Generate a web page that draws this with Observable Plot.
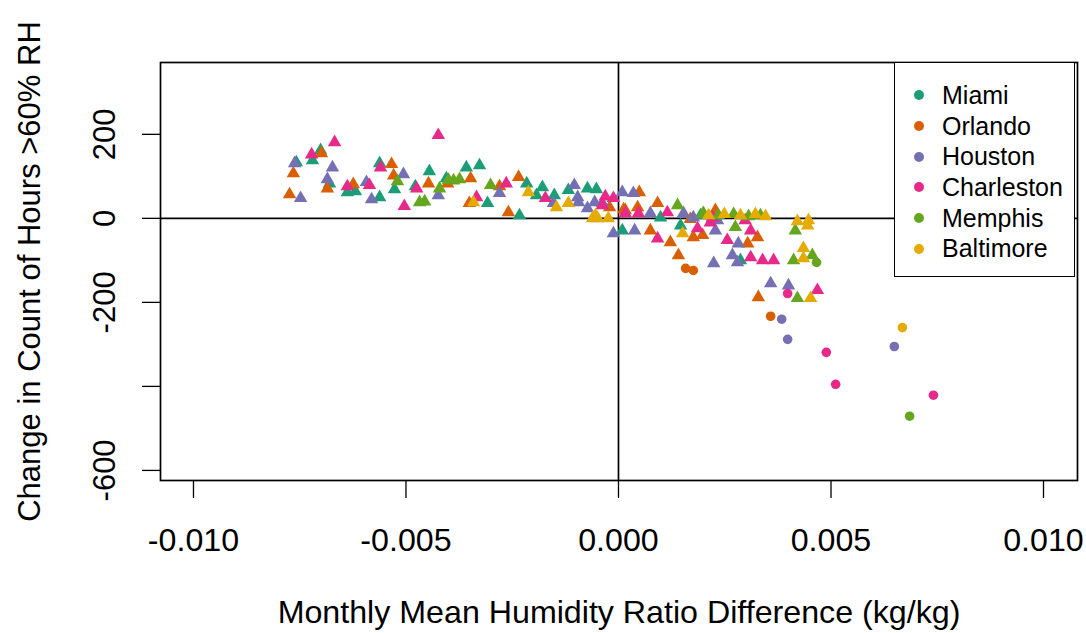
<!DOCTYPE html>
<html>
<head>
<meta charset="utf-8">
<script src="https://cdn.jsdelivr.net/npm/d3@7"></script>
<script src="https://cdn.jsdelivr.net/npm/@observablehq/plot@0.6"></script>
<style>
  html, body { margin: 0; padding: 0; background: #fff; }
  #wrap { position: relative; width: 1086px; height: 633px; font-family: "Liberation Sans", Arial, sans-serif; }
  #legend { position: absolute; left: 894px; top: 62px; width: 181px; height: 215px; border: 1.5px solid #000; background: #fff; box-sizing: border-box; padding-top: 17px; }
  .item { display: flex; align-items: center; height: 30.7px; font-size: 25px; color: #000; }
  .sw { width: 10px; height: 10px; border-radius: 50%; margin-left: 19px; margin-right: 18px; }
</style>
</head>
<body>
<div id="wrap"></div>
<script>
const cities = ["Miami", "Orlando", "Houston", "Charleston", "Memphis", "Baltimore"];
const colors = ["#1B9E77", "#D95F02", "#7570B3", "#E7298A", "#66A61E", "#E6AB02"];

const xTicks = [-0.010, -0.005, 0.000, 0.005, 0.010];
const yTicks = [200, 0, -200, -400, -600];
const yTickLabels = ["200", "0", "-200", "", "-600"];
const xTitle = "Monthly Mean Humidity Ratio Difference (kg/kg)";
const yTitle = "Change in Count of Hours >60% RH";

// triangles: monthly points; circles: outlying points
const miamiTri = [[-0.00758,133],[-0.00720,138],[-0.00701,162],[-0.00680,83],[-0.00638,62],[-0.00619,64],[-0.00562,50],[-0.00562,131],[-0.00527,69],[-0.00478,76],[-0.00445,112],[-0.00405,95],[-0.00358,121],[-0.00327,126],[-0.00308,36],[-0.00233,7],[-0.00216,83],[-0.00193,55],[-0.00179,74],[-0.00151,55],[-0.00118,67],[-0.00073,71],[-0.00052,69],[0.00009,-29],[0.00146,-17],[0.00287,-100],[0.00099,2],[0.00193,7]];
const miamiDot = [];
const orlandoTri = [[-0.00774,57],[-0.00765,107],[-0.00699,155],[-0.00685,71],[-0.00624,81],[-0.00534,129],[-0.00529,102],[-0.00447,83],[-0.00402,83],[-0.00351,36],[-0.00348,95],[-0.00280,76],[-0.00259,14],[-0.00235,98],[-0.00021,26],[0.00012,21],[0.00016,19],[0.00045,26],[0.00049,62],[0.00092,36],[0.00075,-29],[0.00122,-57],[0.00141,-88],[0.00176,-45],[0.00198,-40],[0.00304,-60],[0.00327,-45],[0.00329,-188],[0.00169,-2],[0.00228,19]];
const orlandoDot = [[0.00158,-119],[0.00176,-124],[0.00358,-233]];
const houstonTri = [[-0.00762,131],[-0.00748,48],[-0.00673,121],[-0.00685,93],[-0.00593,86],[-0.00581,45],[-0.00506,105],[-0.00424,55],[-0.00280,60],[-0.00153,36],[-0.00104,79],[-0.00096,50],[-0.00094,38],[-0.00073,24],[-0.00056,38],[-0.00038,36],[-0.00012,-36],[0.00009,62],[0.00035,60],[0.00038,-29],[0.00075,12],[0.00153,12],[0.00176,2],[0.00233,-5],[0.00228,-29],[0.00224,-107],[0.00282,-60],[0.00268,-88],[0.00280,-105],[0.00358,-155],[0.00400,-160]];
const houstonDot = [[0.00384,-240],[0.00398,-288],[0.00649,-305]];
const charlestonTri = [[-0.00722,152],[-0.00668,181],[-0.00638,76],[-0.00586,79],[-0.00560,121],[-0.00504,29],[-0.00475,71],[-0.00424,198],[-0.00334,50],[-0.00264,83],[-0.00172,48],[-0.00031,52],[-0.00012,48],[-0.00038,31],[0.00016,12],[0.00047,12],[0.00092,-48],[0.00115,14],[0.00186,-24],[0.00216,-10],[0.00256,-52],[0.00311,-29],[0.00311,-93],[0.00339,-100],[0.00365,-100],[0.00468,-171],[0.00221,2],[0.00298,-5]];
const charlestonDot = [[0.00398,-179],[0.00489,-319],[0.00511,-395],[0.00741,-421]];
const memphisTri = [[-0.00374,93],[-0.00388,90],[-0.00468,38],[-0.00456,40],[-0.00421,71],[-0.00301,79],[-0.00520,88],[0.00139,31],[0.00200,12],[0.00416,-29],[0.00412,-100],[0.00456,-88],[0.00421,-190],[0.00198,10],[0.00235,7],[0.00271,10],[0.00306,5],[0.00334,7],[0.00275,-21],[-0.00400,91]];
const memphisDot = [[0.00466,-105],[0.00685,-471]];
const baltimoreTri = [[-0.00341,38],[-0.00212,62],[-0.00146,26],[-0.00118,36],[-0.00061,0],[-0.00049,0],[-0.00024,0],[-0.00054,7],[0.00151,-36],[0.00212,7],[0.00249,10],[0.00287,7],[0.00322,10],[0.00346,5],[0.00421,-7],[0.00447,-5],[0.00445,-17],[0.00435,-71],[0.00435,-95],[0.00452,-190]];
const baltimoreDot = [[0.00668,-260]];

const triSets = [miamiTri, orlandoTri, houstonTri, charlestonTri, memphisTri, baltimoreTri];
const dotSets = [miamiDot, orlandoDot, houstonDot, charlestonDot, memphisDot, baltimoreDot];

const rows = (sets) => sets.flatMap((s, i) => s.map(([x, y]) => ({city: cities[i], x, y})));
const triRows = rows(triSets);
const dotRows = rows(dotSets);

const font = "Liberation Sans, Arial, sans-serif";

const chart = Plot.plot({
  width: 1086,
  height: 633,
  marginLeft: 160,
  marginRight: 9,
  marginTop: 62,
  marginBottom: 153,
  style: {fontFamily: font, background: "#fff", color: "#000"},
  x: {domain: [-0.010776, 0.0108]},
  y: {domain: [-624, 371]},
  color: {domain: cities, range: colors},
  marks: [
    Plot.ruleX([0], {stroke: "#000", strokeWidth: 1.7}),
    Plot.ruleY([0], {stroke: "#000", strokeWidth: 1.7}),
    Plot.dot(triRows, {x: "x", y: "y", fill: "city", symbol: "triangle", r: 5}),
    Plot.dot(dotRows, {x: "x", y: "y", fill: "city", symbol: "circle", r: 4.8}),
    Plot.frame({stroke: "#000", strokeWidth: 1.7}),
    Plot.axisX({
      ticks: xTicks,
      tickFormat: d => d.toFixed(3),
      tickSize: 18,
      tickPadding: 30,
      fontSize: 32.2,
      strokeWidth: 1.3,
      label: xTitle,
      labelAnchor: "center",
      labelArrow: "none",
      labelOffset: 142
    }),
    Plot.axisY({
      ticks: yTicks,
      tickFormat: d => yTickLabels[yTicks.indexOf(d)],
      tickSize: 18,
      tickPadding: 28,
      tickRotate: -90,
      fontSize: 31,
      strokeWidth: 1.3,
      label: yTitle,
      labelAnchor: "center",
      labelArrow: "none",
      labelOffset: 143
    })
  ]
});

const wrap = document.getElementById("wrap");
wrap.appendChild(chart);

const legend = document.createElement("div");
legend.id = "legend";
cities.forEach((c, i) => {
  const item = document.createElement("div");
  item.className = "item";
  const sw = document.createElement("span");
  sw.className = "sw";
  sw.style.background = colors[i];
  const t = document.createElement("span");
  t.textContent = c;
  item.appendChild(sw);
  item.appendChild(t);
  legend.appendChild(item);
});
wrap.appendChild(legend);
</script>
</body>
</html>
